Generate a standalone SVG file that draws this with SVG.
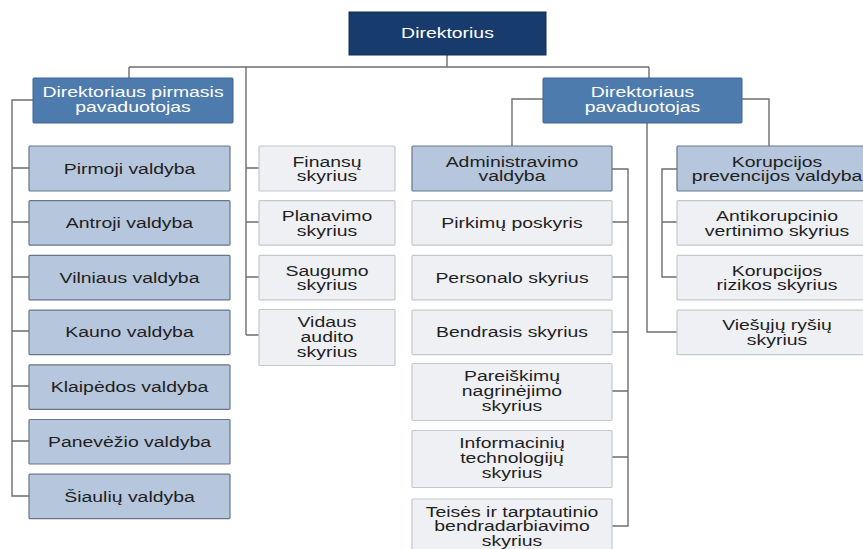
<svg xmlns="http://www.w3.org/2000/svg" width="863" height="549" viewBox="0 0 863 549">
<style>
text{font-family:"Liberation Sans",Arial,sans-serif;font-size:14.5px;text-anchor:middle;fill:#1f1f1f}
.top{fill:#173b6c;stroke:#102e58;stroke-width:1}
.dep{fill:#4e7bae;stroke:#3d6696;stroke-width:1}
.val{fill:#b6c6dc;stroke:#66768a;stroke-width:1.2}
.sky{fill:#eef0f4;stroke:#c3c8cf;stroke-width:1.2}
.w{fill:#ffffff}
#connectors path{fill:none;stroke:#6e6e6e;stroke-width:1.4}
</style>
<g id="connectors">
<path d="M447 55V67M129 67H649M129 67V78M649 67V78M246 67V335"/>
<path d="M246 168H259M246 222H259M246 277H259M246 335H259"/>
<path d="M33 100H12V496H29M12 168H29M12 222H29M12 277H29M12 331H29M12 386H29M12 441H29"/>
<path d="M543 99H512V146M742 99H769V146M647 123V332H677"/>
<path d="M612 169H628V526H612M628 222H612M628 277H612M628 332H612M628 391H612M628 457H612"/>
<path d="M677 169H662V277H677M662 222H677"/>
</g>
<g id="direktorius"><rect class="top" x="349" y="12" width="197" height="43"/><text class="w" transform="translate(447.5 38) scale(1.34 1)">Direktorius</text></g>
<g id="pirmasis"><rect class="dep" x="33" y="78" width="200" height="45" rx="1"/><text class="w" transform="translate(133 97) scale(1.34 1)"><tspan x="0">Direktoriaus pirmasis</tspan><tspan x="0" dy="15">pavaduotojas</tspan></text></g>
<g id="pavaduotojas"><rect class="dep" x="543" y="78" width="199" height="45" rx="1"/><text class="w" transform="translate(642.5 97) scale(1.34 1)"><tspan x="0">Direktoriaus</tspan><tspan x="0" dy="15">pavaduotojas</tspan></text></g>

<g id="pirmoji"><rect class="val" x="29" y="146" width="201" height="45" rx="1"/><text transform="translate(129.5 174) scale(1.34 1)">Pirmoji valdyba</text></g>
<g id="antroji"><rect class="val" x="29" y="200.7" width="201" height="44.5" rx="1"/><text transform="translate(129.5 228) scale(1.34 1)">Antroji valdyba</text></g>
<g id="vilniaus"><rect class="val" x="29" y="255.4" width="201" height="44.5" rx="1"/><text transform="translate(129.5 282.5) scale(1.34 1)">Vilniaus valdyba</text></g>
<g id="kauno"><rect class="val" x="29" y="310.1" width="201" height="44.5" rx="1"/><text transform="translate(129.5 337) scale(1.34 1)">Kauno valdyba</text></g>
<g id="klaipedos"><rect class="val" x="29" y="364.8" width="201" height="44.5" rx="1"/><text transform="translate(129.5 391.5) scale(1.34 1)">Klaipėdos valdyba</text></g>
<g id="panevezio"><rect class="val" x="29" y="419.5" width="201" height="44.5" rx="1"/><text transform="translate(129.5 446.5) scale(1.34 1)">Panevėžio valdyba</text></g>
<g id="siauliu"><rect class="val" x="29" y="474.2" width="201" height="44.5" rx="1"/><text transform="translate(129.5 501.5) scale(1.34 1)">Šiaulių valdyba</text></g>

<g id="finansu"><rect class="sky" x="259" y="146" width="136" height="45" rx="1"/><text transform="translate(327 166.5) scale(1.34 1)"><tspan x="0">Finansų</tspan><tspan x="0" dy="15">skyrius</tspan></text></g>
<g id="planavimo"><rect class="sky" x="259" y="200.7" width="136" height="44.5" rx="1"/><text transform="translate(327 221) scale(1.34 1)"><tspan x="0">Planavimo</tspan><tspan x="0" dy="15">skyrius</tspan></text></g>
<g id="saugumo"><rect class="sky" x="259" y="255.4" width="136" height="44.5" rx="1"/><text transform="translate(327 275.5) scale(1.34 1)"><tspan x="0">Saugumo</tspan><tspan x="0" dy="15">skyrius</tspan></text></g>
<g id="vidaus"><rect class="sky" x="259" y="309.5" width="136" height="56" rx="1"/><text transform="translate(327 327) scale(1.34 1)"><tspan x="0">Vidaus</tspan><tspan x="0" dy="15">audito</tspan><tspan x="0" dy="15">skyrius</tspan></text></g>

<g id="administravimo"><rect class="val" x="412" y="146" width="200" height="45" rx="1"/><text transform="translate(512 166.5) scale(1.34 1)"><tspan x="0">Administravimo</tspan><tspan x="0" dy="15">valdyba</tspan></text></g>
<g id="pirkimu"><rect class="sky" x="412" y="200.7" width="200" height="44.5" rx="1"/><text transform="translate(512 228) scale(1.34 1)">Pirkimų poskyris</text></g>
<g id="personalo"><rect class="sky" x="412" y="255.4" width="200" height="44.5" rx="1"/><text transform="translate(512 282.5) scale(1.34 1)">Personalo skyrius</text></g>
<g id="bendrasis"><rect class="sky" x="412" y="310.1" width="200" height="44.5" rx="1"/><text transform="translate(512 337) scale(1.34 1)">Bendrasis skyrius</text></g>
<g id="pareiskimu"><rect class="sky" x="412" y="363.5" width="200" height="57" rx="1"/><text transform="translate(512 381) scale(1.34 1)"><tspan x="0">Pareiškimų</tspan><tspan x="0" dy="15">nagrinėjimo</tspan><tspan x="0" dy="15">skyrius</tspan></text></g>
<g id="informaciniu"><rect class="sky" x="412" y="430.5" width="200" height="57" rx="1"/><text transform="translate(512 448) scale(1.34 1)"><tspan x="0">Informacinių</tspan><tspan x="0" dy="15">technologijų</tspan><tspan x="0" dy="15">skyrius</tspan></text></g>
<g id="teises"><rect class="sky" x="412" y="499" width="200" height="58" rx="1"/><text transform="translate(512 516.5) scale(1.34 1)"><tspan x="0">Teisės ir tarptautinio</tspan><tspan x="0" dy="15">bendradarbiavimo</tspan><tspan x="0" dy="15">skyrius</tspan></text></g>

<g id="korupcijos-prevencijos"><rect class="val" x="677" y="146" width="200" height="45" rx="1"/><text transform="translate(777 166.5) scale(1.34 1)"><tspan x="0">Korupcijos</tspan><tspan x="0" dy="15">prevencijos valdyba</tspan></text></g>
<g id="antikorupcinio"><rect class="sky" x="677" y="200.7" width="200" height="44.5" rx="1"/><text transform="translate(777 221) scale(1.34 1)"><tspan x="0">Antikorupcinio</tspan><tspan x="0" dy="15">vertinimo skyrius</tspan></text></g>
<g id="korupcijos-rizikos"><rect class="sky" x="677" y="255.4" width="200" height="44.5" rx="1"/><text transform="translate(777 275.5) scale(1.34 1)"><tspan x="0">Korupcijos</tspan><tspan x="0" dy="15">rizikos skyrius</tspan></text></g>
<g id="viesuju"><rect class="sky" x="677" y="310.1" width="200" height="44.5" rx="1"/><text transform="translate(777 330) scale(1.34 1)"><tspan x="0">Viešųjų ryšių</tspan><tspan x="0" dy="15">skyrius</tspan></text></g>
</svg>
